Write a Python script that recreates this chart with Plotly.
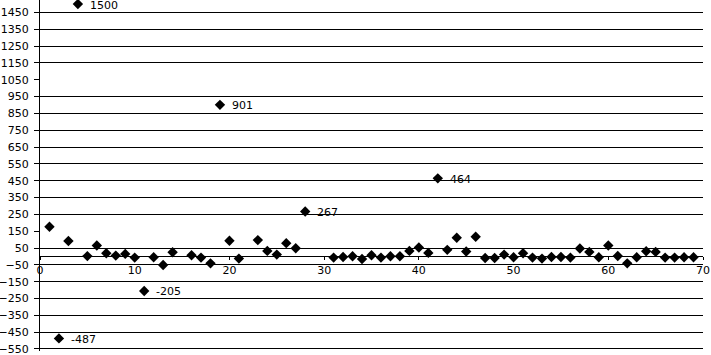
import plotly.graph_objects as go

x_vals = [1, 2, 3, 4, 5, 6, 7, 8, 9, 10, 11, 12, 13, 14, 16, 17, 18, 19, 20, 21,
          23, 24, 25, 26, 27, 28, 31, 32, 33, 34, 35, 36, 37, 38, 39, 40, 41, 42,
          43, 44, 45, 46, 47, 48, 49, 50, 51, 52, 53, 54, 55, 56, 57, 58, 59, 60,
          61, 62, 63, 64, 65, 66, 67, 68, 69]
y_vals = [176, -487, 92, 1500, 2, 65, 19, 5, 15, -7, -205, -5, -51, 25, 7, -7, -41, 901, 93, -13,
          97, 33, 11, 79, 49, 267, -7, -3, 1, -15, 7, -7, 1, 1, 33, 53, 21, 464,
          39, 111, 29, 117, -9, -9, 11, -5, 19, -7, -13, -3, -3, -7, 47, 27, -5, 65,
          3, -41, -5, 31, 27, -7, -7, -5, -5]
labelled_x = [2, 4, 11, 19, 28, 42]

y_ticks = list(range(-550, 1451, 100))
grid_ticks = [v for v in y_ticks if v not in (1050, 150)]
x_ticks = list(range(0, 71, 10))

Y_MIN, Y_MAX = -562, 1524

fig = go.Figure()
fig.add_trace(go.Scatter(x=[None], y=[None], yaxis="y2", showlegend=False, hoverinfo="skip"))
fig.add_trace(go.Scatter(
    x=x_vals, y=y_vals, mode="markers",
    marker=dict(symbol="diamond", size=8, color="black"),
    cliponaxis=False, showlegend=False,
))

for xv, yv in zip(x_vals, y_vals):
    if xv in labelled_x:
        fig.add_annotation(
            x=xv, y=yv, text=str(yv), showarrow=False,
            xanchor="left", yanchor="middle", xshift=10, yshift=-1,
            font=dict(family="DejaVu Sans", size=11, color="black"),
        )

fig.update_layout(
    width=711, height=355,
    margin=dict(l=40, r=8, t=0, b=4),
    paper_bgcolor="white", plot_bgcolor="white",
    font=dict(family="DejaVu Sans", size=11, color="black"),
    xaxis=dict(
        range=[0, 70], tickvals=x_ticks, showgrid=False, zeroline=False,
        showline=True, linecolor="black", linewidth=1,
        ticks="outside", ticklen=3, tickcolor="black",
        anchor="free", position=(0 - Y_MIN) / (Y_MAX - Y_MIN),
        ticklabeloverflow="allow",
    ),
    yaxis=dict(
        range=[Y_MIN, Y_MAX], tickvals=y_ticks, showgrid=False, zeroline=False,
        showline=True, linecolor="black", linewidth=1,
        ticks="outside", ticklen=5, tickcolor="black", ticklabelstandoff=3,
        ticklabeloverflow="allow",
    ),
    yaxis2=dict(
        range=[Y_MIN, Y_MAX], tickvals=grid_ticks, overlaying="y",
        showgrid=True, gridcolor="black", gridwidth=1,
        showticklabels=False, zeroline=False, showline=False,
    ),
)

fig.write_html("out.html", config={"displayModeBar": False},
               post_script="document.body.style.margin='0';")
